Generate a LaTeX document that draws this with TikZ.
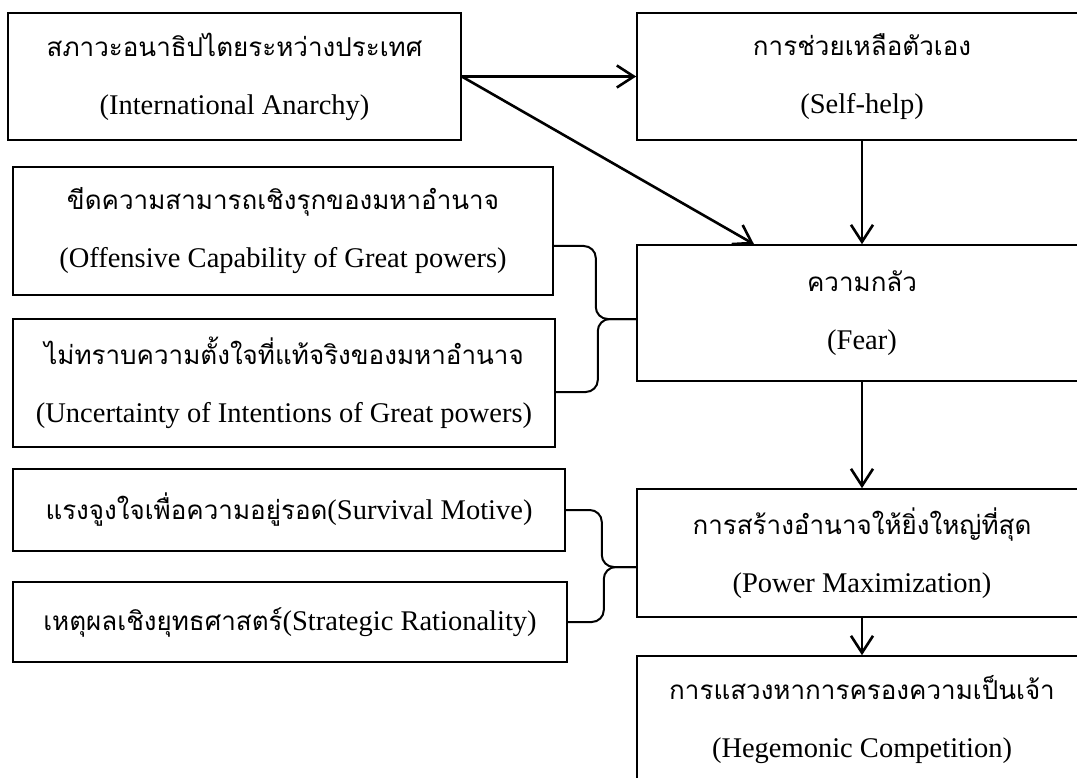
\documentclass[tikz,border=0pt]{standalone}
\usepackage{fontspec}
\setmainfont{Liberation Serif}
\newfontfamily\thaifont[Script=Thai]{Loma}
\usetikzlibrary{arrows.meta}
\newcommand{\thtext}[1]{{\thaifont\fontsize{26}{58}\selectfont #1}}
\tikzset{
	box/.style={draw,line width=1.6pt,align=center,inner sep=0pt,
		font=\fontsize{28.5}{58}\selectfont},
	arr/.style={line width=2.6pt,-{Straight Barb[length=17pt,width=22pt,line width=2.6pt]}},
	brace/.style={line width=2pt,rounded corners=12pt}
}
\begin{document}
\begin{tikzpicture}[x=1pt,y=-1pt]
		\useasboundingbox (0,0) rectangle (1077,778);
		\clip (0,0) rectangle (1077,778);
		% left column
		\node[box,minimum width=453pt,minimum height=127pt] (anarchy) at (234.5,76.5)
		{\thtext{สภาวะอนาธิปไตยระหว่างประเทศ}\\(International Anarchy)};
		\node[box,minimum width=540pt,minimum height=128pt] (offense) at (283,231)
		{\thtext{ขีดความสามารถเชิงรุกของมหาอำนาจ}\\(Offensive Capability of Great powers)};
		\node[box,minimum width=542pt,minimum height=128pt] (intent) at (284,383)
		{\thtext{ไม่ทราบความตั้งใจที่แท้จริงของมหาอำนาจ}\\(Uncertainty of Intentions of Great powers)};
		\node[box,minimum width=552pt,minimum height=82pt] (survive) at (289,510)
		{\thtext{แรงจูงใจเพื่อความอยู่รอด}(Survival Motive)};
		\node[box,minimum width=554pt,minimum height=80pt] (reason) at (290,622)
		{\thtext{เหตุผลเชิงยุทธศาสตร์}(Strategic Rationality)};
		% right column
		\node[box,minimum width=450pt,minimum height=127pt] (selfhelp) at (862,76.5)
		{\thtext{การช่วยเหลือตัวเอง}\\(Self-help)};
		\node[box,minimum width=450pt,minimum height=136pt] (fear) at (862,313)
		{\thtext{ความกลัว}\\(Fear)};
		\node[box,minimum width=450pt,minimum height=128pt] (power) at (862,553)
		{\thtext{การสร้างอำนาจให้ยิ่งใหญ่ที่สุด}\\(Power Maximization)};
		\node[box,minimum width=450pt,minimum height=128pt] (hegemon) at (862,720)
		{\thtext{การแสวงหาการครองความเป็นเจ้า}\\(Hegemonic Competition)};
		% arrows
		\draw[arr] (anarchy.east) -- (selfhelp.west);
		\draw[arr] (anarchy.east) -- ([xshift=-108pt]fear.north);
		\draw[arr] (selfhelp.south) -- (fear.north);
		\draw[arr] (fear.south) -- (power.north);
		\draw[arr] (power.south) -- (hegemon.north);
		% braces
		\draw[brace] ([yshift=-15pt]offense.east) -- ++(42,0) |- ([yshift=-6pt]fear.west);
		\draw[brace] ([yshift=-9pt]intent.east) -- ++(42,0) |- ([yshift=-6pt]fear.west);
		\draw[brace] (survive.east) -- ++(36,0) |- ([yshift=-14pt]power.west);
		\draw[brace] (reason.east) -- ++(36,0) |- ([yshift=-14pt]power.west);
	\end{tikzpicture}
\end{document}
